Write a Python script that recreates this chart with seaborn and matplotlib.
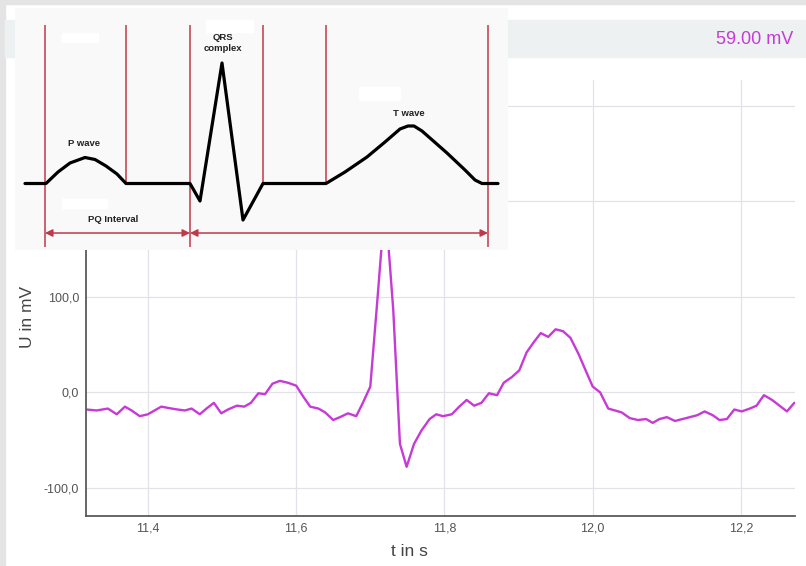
import numpy as np
import pandas as pd
import matplotlib.pyplot as plt
import matplotlib.patches as mpatches
from matplotlib.ticker import FuncFormatter
import seaborn as sns

# ECG samples (time in s, voltage in mV)
t_s = [11.317, 11.331, 11.346, 11.358, 11.369, 11.378, 11.389, 11.400, 11.409, 11.418,
       11.432, 11.440, 11.450, 11.459, 11.470, 11.479, 11.489, 11.499, 11.508, 11.520,
       11.530, 11.539, 11.549, 11.558, 11.568, 11.578, 11.589, 11.600, 11.610, 11.619,
       11.630, 11.639, 11.650, 11.659, 11.670, 11.681, 11.690, 11.700, 11.710, 11.720,
       11.731, 11.740, 11.749, 11.759, 11.769, 11.780, 11.789, 11.798, 11.810, 11.820,
       11.830, 11.840, 11.850, 11.860, 11.871, 11.880, 11.891, 11.901, 11.911, 11.921,
       11.930, 11.940, 11.950, 11.960, 11.970, 11.981, 11.991, 12.000, 12.010, 12.021,
       12.030, 12.039, 12.050, 12.061, 12.072, 12.081, 12.090, 12.100, 12.111, 12.121,
       12.131, 12.141, 12.151, 12.162, 12.171, 12.181, 12.191, 12.201, 12.212, 12.221,
       12.231, 12.242, 12.252, 12.262, 12.272]
u_mv = [-18, -19, -17, -23, -15, -19, -25, -23, -19, -15,
        -17, -18, -19, -17, -23, -17, -11, -22, -18, -14,
        -15, -11, -1, -2, 9, 12, 10, 7, -5, -15,
        -17, -21, -29, -26, -22, -25, -11, 6, 101, 200,
        86, -54, -78, -54, -40, -28, -23, -25, -23, -15,
        -8, -14, -11, -1, -3, 10, 16, 23, 42, 53,
        62, 58, 66, 64, 57, 40, 22, 6, 0, -17,
        -19, -21, -27, -29, -28, -32, -28, -26, -30, -28,
        -26, -24, -20, -24, -29, -28, -18, -20, -17, -14,
        -3, -8, -14, -20, -11]

x_ticks = [11.4, 11.6, 11.8, 12.0, 12.2]
y_ticks = [-100, 0, 100, 200, 300]
readout = "59.00 mV"

# schematic ECG in the inset picture (picture pixel units)
scheme_x = [25, 46, 58, 70, 85, 95, 106, 117, 126, 190, 200, 222, 243, 263, 326,
            345, 367, 385, 400, 408, 414, 422, 447, 465, 475, 482, 498]
scheme_y = [183.5, 183.5, 172, 163, 157.5, 159.5, 166, 174, 183.5, 183.5, 201, 63, 220, 183.5, 183.5,
            172, 157, 142, 129, 126, 126, 131, 153, 170, 180, 183.5, 183.5]
long_marks = [45, 190, 488]
short_marks = [126, 263, 326]
scheme_labels = ["QRS\ncomplex", "P wave", "T wave", "PQ Interval"]
label_pos = [(223, 43), (84, 143), (409, 113), (113, 220)]

df = pd.DataFrame({"t": t_s, "U": u_mv})

W, H = 806, 566
sns.set_theme(style="whitegrid")
plt.rcParams['font.family'] = ['Liberation Sans', 'DejaVu Sans']

fig = plt.figure(figsize=(W / 100, H / 100), dpi=100)
fig.patch.set_facecolor('white')

# frame strips and header band (behind every axes)
fig.patches.append(mpatches.Rectangle((0, 0), 5 / W, 1, transform=fig.transFigure,
                                      color='#e4e4e4', zorder=-5))
fig.patches.append(mpatches.Rectangle((0, 1 - 4 / H), 1, 4 / H, transform=fig.transFigure,
                                      color='#e4e4e4', zorder=-5))
fig.patches.append(mpatches.Rectangle((5 / W, 1 - 57 / H), 800 / W, 37 / H,
                                      transform=fig.transFigure, color='#eef1f2', zorder=-5))
fig.text(793 / W, 1 - 40 / H, readout, ha='right', va='center', fontsize=13, color='#c63ad6',
         zorder=-4)

# main ECG axes
ax = fig.add_axes([86 / W, 1 - 516 / H, 709 / W, 436 / H])
ax.set_facecolor('white')
sns.lineplot(data=df, x='t', y='U', ax=ax, color='#c63ad6', linewidth=1.7,
             solid_joinstyle='round')
ax.set_xlim(11.3165, 12.2729)
ax.set_ylim(-129.5, 327)
ax.set_xticks(x_ticks)
ax.set_yticks(y_ticks)
fmt = FuncFormatter(lambda v, p: f"{v:.1f}".replace('.', ','))
ax.xaxis.set_major_formatter(fmt)
ax.yaxis.set_major_formatter(fmt)
ax.tick_params(length=0, pad=5, labelsize=9, labelcolor='#555555')
ax.grid(True, color='#e2e2e8', linewidth=0.9)
for side in ['top', 'right']:
    ax.spines[side].set_visible(False)
for side in ['left', 'bottom']:
    ax.spines[side].set_color('#5a5a5a')
    ax.spines[side].set_linewidth(1.3)
ax.set_xlabel('t in s', fontsize=12.5, color='#444444', va='center')
ax.set_ylabel('U in mV', fontsize=12.5, color='#444444', va='center')
ax.xaxis.set_label_coords((409 - 86) / 709, (516 - 551) / 436)
ax.yaxis.set_label_coords((27 - 86) / 709, (516 - 317) / 436)

# inset schematic picture
red = '#c0394b'
ins = fig.add_axes([15 / W, 1 - 250 / H, 493 / W, 242 / H])
ins.set_zorder(5)
ins.set_facecolor('#f9f9f9')
ins.set_xlim(15, 508)
ins.set_ylim(250, 8)
ins.set_xticks([])
ins.set_yticks([])
ins.grid(False)
for s in ins.spines.values():
    s.set_visible(False)
for (x0, y0, w, h) in [(62, 33, 36, 9), (62, 199, 45, 9), (359, 87, 41, 13), (206, 20, 47, 12)]:
    ins.add_patch(mpatches.Rectangle((x0, y0), w, h, color='white', zorder=1))
ins.vlines(long_marks, 25, 247, color=red, linewidth=1.1, zorder=2)
ins.vlines(short_marks, 25, 184, color=red, linewidth=1.1, zorder=2)
sns.lineplot(x=scheme_x, y=scheme_y, ax=ins, sort=False, color='black', linewidth=2.3,
             solid_joinstyle='round', zorder=3)
for a, b in [(long_marks[0], long_marks[1]), (long_marks[1], long_marks[2])]:
    ins.annotate('', xy=(a, 233), xytext=(b, 233),
                 arrowprops=dict(arrowstyle='<|-|>', color=red, lw=1.1,
                                 mutation_scale=11, shrinkA=0, shrinkB=0))
for txt, (lx, ly) in zip(scheme_labels, label_pos):
    ins.text(lx, ly, txt, ha='center', va='center', fontsize=6.8, fontweight='bold',
             color='#222222', linespacing=1.35, zorder=4)

fig.savefig('out.png', dpi=100)
